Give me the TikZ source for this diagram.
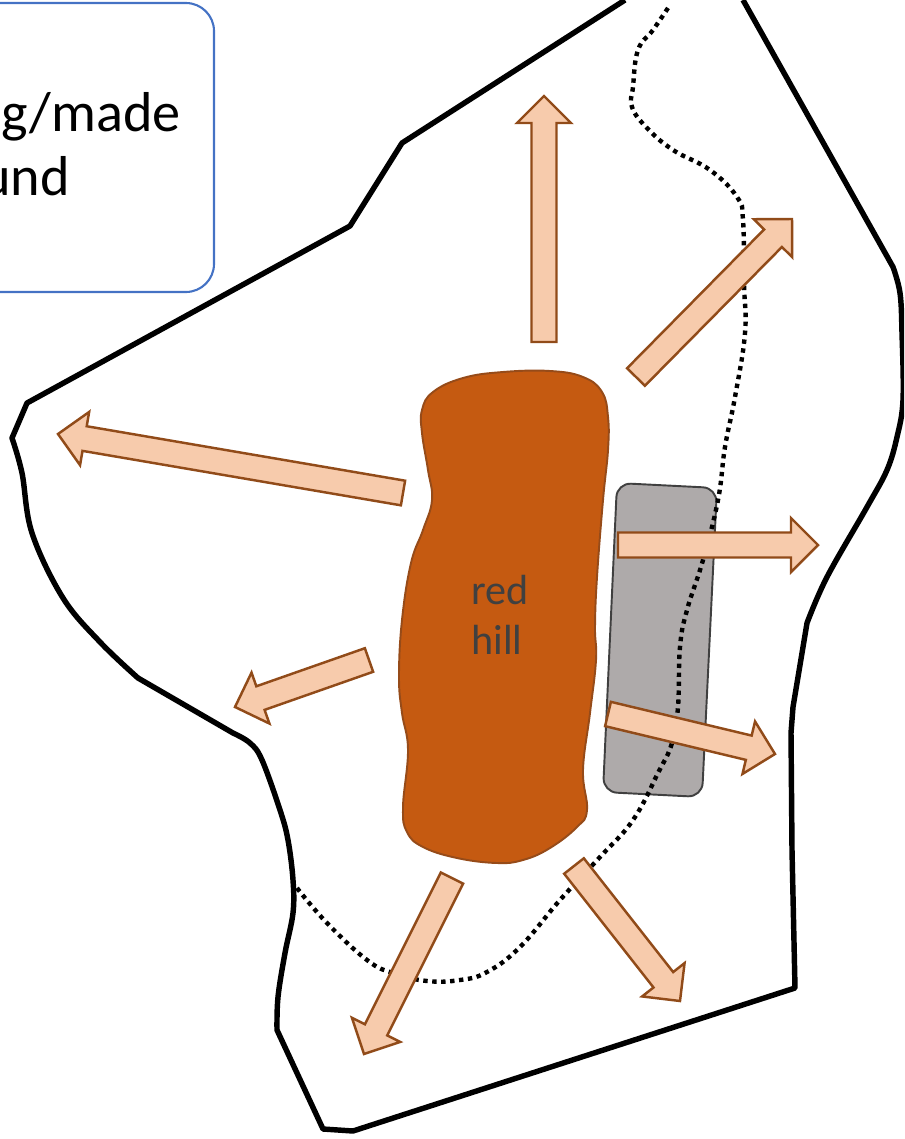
\documentclass[tikz,border=0pt]{standalone}
\usepackage{fontspec}
\setmainfont{Carlito}
\usepackage{xcolor}
\usetikzlibrary{calc}
\definecolor{hillred}   {RGB}{197,90,17}
\definecolor{hillline}  {RGB}{150,75,25}
\definecolor{gravelgray}{RGB}{174,170,170}
\definecolor{arrowfill} {RGB}{247,203,172}
\definecolor{arrowline} {RGB}{145,75,25}
\definecolor{keyblue}   {RGB}{68,114,196}
\definecolor{labelgray} {RGB}{64,64,64}
\tikzset{
  sitebound/.style={draw=black, line width=3.1pt, line join=round},
  oldbound/.style ={draw=black, line width=2.5pt, dash pattern=on 2.5pt off 2.6pt},
  keybox/.style   ={draw=keyblue, line width=1.2pt, rounded corners=16pt},
  hillshape/.style={draw=hillline, line width=1.1pt, fill=hillred},
  gravelbox/.style={draw=labelgray, line width=1.1pt, fill=gravelgray, rounded corners=8pt},
  flowarr/.style  ={draw=arrowline, line width=1.4pt, fill=arrowfill, line join=miter},
  keytext/.style  ={anchor=base east, font=\fontsize{32}{38}\selectfont, text=black, inner sep=0pt},
  hilltext/.style ={anchor=west, align=left, font=\fontsize{24}{28.5}\selectfont, text=labelgray, inner sep=0pt},
}
% block arrow: tail, tip
\newcommand{\flowarrow}[2]{
  \coordinate (ft) at (#1);
  \coordinate (fh) at (#2);
  \coordinate (fb) at ($(fh)!0.54cm!(ft)$);
  \draw[flowarr] ($(ft)!0.25cm!90:(fh)$) -- ($(fb)!0.25cm!90:(fh)$) -- ($(fb)!0.54cm!90:(fh)$)
    -- (fh) -- ($(fb)!0.54cm!-90:(fh)$) -- ($(fb)!0.25cm!-90:(fh)$) -- ($(ft)!0.25cm!-90:(fh)$) -- cycle;
}
\begin{document}
\begin{tikzpicture}[x=0.02cm,y=-0.02cm]
  \clip (0,0) rectangle (904,1139);
  % key
  \draw[keybox] (-60,3) rectangle (214,292);
  \node[keytext] (keya) at (181,131) {g/made};
  \node[keytext] (keyb) at (70,195) {und};
  % site boundary
  \draw[sitebound] (625,0) -- (402,143) -- (350,226) -- (27,403) -- (12,438)
    -- plot[smooth,tension=0.6] coordinates {(12,438) (22,473) (32,533) (63,598) (100,642) (138,678)}
    -- (233,733)
    -- plot[smooth,tension=0.6] coordinates {(233,733) (250,743) (262,760) (280,810) (288,840)
      (293,880) (293,913) (285,953) (278,997) (277,1030)}
    -- (323,1129) -- (353,1131) -- (795,988) -- (792,850) -- (791,733) -- (793,707) -- (807,623)
    -- plot[smooth,tension=0.6] coordinates {(807,623) (827,577) (867,507) (887,470) (897,437)
      (903,400) (902,333) (900,293) (893,267)}
    -- (743,0);
  % gravel strip
  \draw[gravelbox] (617,483) -- (717,488) -- (702,797) -- (603,792) -- cycle;
  % dotted line
  \draw[oldbound] plot[smooth,tension=0.7] coordinates {(668,8) (653,30) (638,50) (633,87)
    (632,107) (647,128) (673,150) (710,170) (737,197) (743,220) (744,283) (745,333)
    (735,397) (725,447) (718,500) (703,560) (687,610) (680,647) (678,707) (672,743)
    (658,773) (633,820) (600,857) (560,900) (520,947) (487,972) (460,980) (427,981)
    (393,973) (367,960) (327,923) (297,888)};
  % red hill
  \draw[hillshape] plot[smooth cycle,tension=0.7] coordinates {(422,410) (433,392) (463,378)
    (503,372) (550,371) (583,377) (602,392) (608,417) (608,450) (603,500) (597,577)
    (595,627) (596,660) (590,713) (583,770) (587,810) (577,827) (550,848) (523,860)
    (497,863) (457,858) (423,847) (407,832) (403,807) (408,750) (402,713) (399,677)
    (402,620) (411,563) (423,530) (432,500) (428,470) (422,433)};
  \node[hilltext] (hill) at (471,615) {red\\hill};
  % arrows
  \flowarrow{544,342}{544,96}
  \flowarrow{636,377}{792,219}
  \flowarrow{403,493}{58,434}
  \flowarrow{618,545}{818,545}
  \flowarrow{608,714}{775,754}
  \flowarrow{369,660}{235,707}
  \flowarrow{452,878}{364,1054}
  \flowarrow{574,866}{680,1001}
\end{tikzpicture}
\end{document}
